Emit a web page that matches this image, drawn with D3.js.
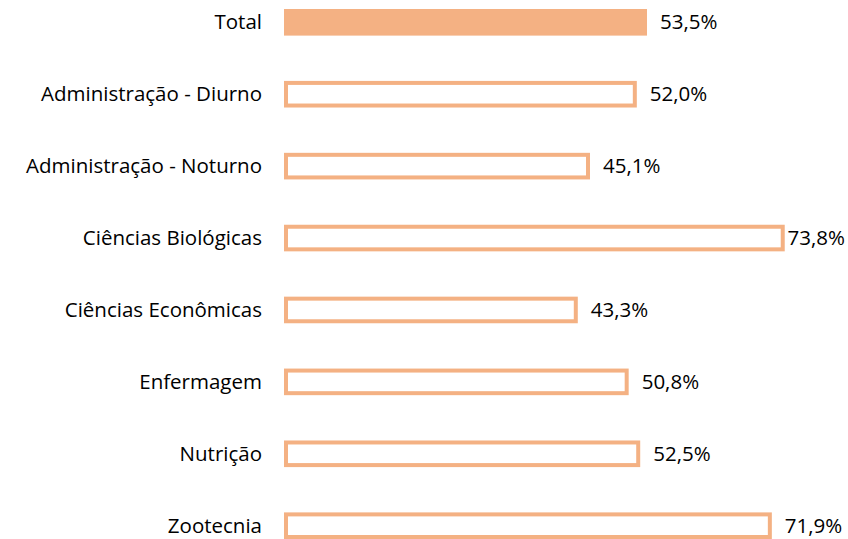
<!DOCTYPE html>
<html>
<head>
<meta charset="utf-8">
<script src="https://cdn.jsdelivr.net/npm/d3@7"></script>
<style>
  body { margin: 0; background: #fff; }
  text { font-family: "Open Sans", Lato, sans-serif; font-size: 20.5px; fill: #000; }
</style>
</head>
<body>
<div id="chart"></div>
<script>
const categories = [
    "Total",
    "Administração - Diurno",
    "Administração - Noturno",
    "Ciências Biológicas",
    "Ciências Econômicas",
    "Enfermagem",
    "Nutrição",
    "Zootecnia"
];
const values = [53.5, 52.0, 45.1, 73.8, 43.3, 50.8, 52.5, 71.9];

const width = 848, height = 539;
const barColor = "#F4B183";
const sw = 4;

const svg = d3.select("#chart")
    .append("svg")
    .attr("width", width)
    .attr("height", height);

const x = d3.scaleLinear().domain([0, 100]).range([284, 284 + 678.5]);
const y = d3.scaleBand()
    .domain(categories)
    .range([9, 539])
    .paddingInner(0.63)
    .paddingOuter(0);

const fmt = (v) => d3.format(".1f")(v).replace(".", ",") + "%";

const rows = svg.selectAll(".row")
    .data(categories)
    .enter()
    .append("g")
    .attr("class", "row");

// first bar is solid, the rest are outlined (stroke drawn inside the value extent)
rows.append("rect")
    .attr("x", (d, i) => i === 0 ? x(0) : x(0) + sw / 2)
    .attr("y", (d, i) => i === 0 ? y(d) : y(d) + sw / 2)
    .attr("width", (d, i) => i === 0 ? x(values[i]) - x(0) : x(values[i]) - x(0) - sw)
    .attr("height", (d, i) => i === 0 ? y.bandwidth() : y.bandwidth() - sw)
    .attr("fill", (d, i) => i === 0 ? barColor : "#fff")
    .attr("stroke", (d, i) => i === 0 ? "none" : barColor)
    .attr("stroke-width", sw);

rows.append("text")
    .attr("x", x(0) - 22)
    .attr("y", (d) => y(d) + y.bandwidth() / 2)
    .attr("dy", "0.35em")
    .attr("text-anchor", "end")
    .text((d) => d);

rows.append("text")
    .attr("class", "val")
    .attr("x", (d, i) => x(values[i]) + 13)
    .attr("y", (d) => y(d) + y.bandwidth() / 2)
    .attr("dy", "0.35em")
    .text((d, i) => fmt(values[i]))
    .each(function () {
        const w = this.getComputedTextLength();
        const xs = +d3.select(this).attr("x");
        if (xs + w > 845) d3.select(this).attr("x", 845 - w);
    });
</script>
</body>
</html>
